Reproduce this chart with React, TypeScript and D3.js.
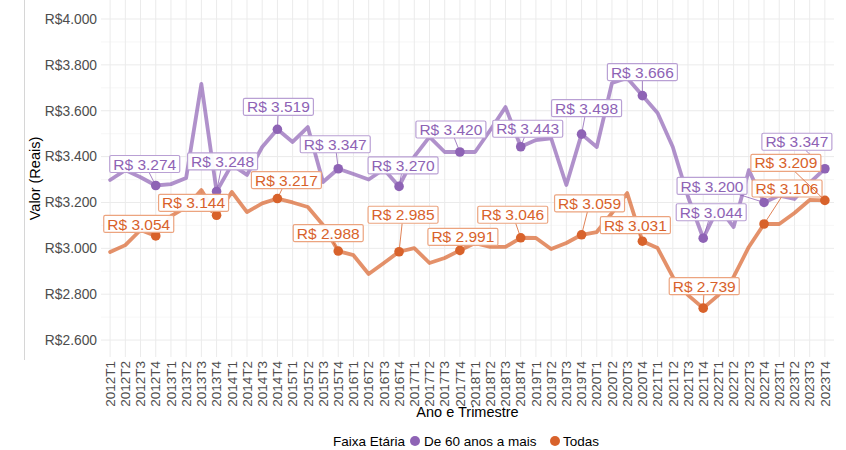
import React, { useEffect } from "react";
import * as d3 from "d3";

const years = [2012, 2013, 2014, 2015, 2016, 2017, 2018, 2019, 2020, 2021, 2022, 2023];
const quarterNames = ["T1", "T2", "T3", "T4"];
const quarters: string[] = years.flatMap((y) => quarterNames.map((q) => `${y}${q}`));

const seriesNames = ["De 60 anos a mais", "Todas"];

const valuesIdosos = [
  3298, 3341, 3310, 3274, 3280, 3307, 3717, 3248, 3365, 3320, 3442, 3519,
  3464, 3529, 3289, 3347, 3324, 3300, 3345, 3270, 3400, 3486, 3420, 3420,
  3420, 3516, 3616, 3443, 3472, 3480, 3276, 3498, 3442, 3721, 3743, 3666,
  3590, 3442, 3225, 3044, 3180, 3093, 3341, 3200, 3230, 3215, 3285, 3347,
];

const valuesTodas = [
  2984, 3014, 3080, 3054, 3140, 3180, 3254, 3144, 3246, 3158, 3196, 3217,
  3200, 3180, 3102, 2988, 2970, 2888, 2936, 2985, 3001, 2936, 2958, 2991,
  3023, 3006, 3006, 3046, 3045, 2997, 3023, 3059, 3071, 3154, 3241, 3031,
  3001, 2875, 2796, 2739, 2796, 2875, 3006, 3106, 3106, 3154, 3211, 3209,
];

const labeledIdosos = ["2012T4", "2013T4", "2014T4", "2015T4", "2016T4", "2017T4", "2018T4", "2019T4", "2020T4", "2021T4", "2022T4", "2023T4"];
const labeledTodas = ["2012T4", "2013T4", "2014T4", "2015T4", "2016T4", "2017T4", "2018T4", "2019T4", "2020T4", "2021T4", "2022T4", "2023T4"];

// label placement offsets (px) relative to the point (layout, repel-like)
const offsetsIdosos: [number, number][] = [
  [-11, -21.5], [6, -30], [1, -22.5], [-3, -24.5], [4, -21], [-9, -22.5],
  [7, -18], [5, -26], [0, -23.5], [8, -26], [-52, -16.5], [-28, -27],
];
const offsetsTodas: [number, number][] = [
  [-17, -12], [-23, -12.5], [9, -18.5], [-10, -18], [4, -37], [3, -13.5],
  [-8, -23], [8, -31.5], [-7, -16], [1, -22], [23, -35.5], [-39, -37.5],
];

const yTicks = [2600, 2800, 3000, 3200, 3400, 3600, 3800, 4000];
const yMinor = [2700, 2900, 3100, 3300, 3500, 3700, 3900];

const W = 846;
const H = 450;
const PL = 101, PR = 834, PT = 0, PB = 357;

const COL = {
  purple: "#8e63b5",
  purpleBox: "#b9a0d4",
  orange: "#d8622b",
  orangeBox: "#eca47f",
};

const locale = d3.formatLocale({ decimal: ",", thousands: ".", grouping: [3], currency: ["R$", ""] });
const fmtTick = (v: number) => "R$" + locale.format(",.0f")(v);
const fmtLabel = (v: number) => "R$ " + locale.format(",.0f")(v);

const FONT = "'Liberation Sans', Arial, Helvetica, sans-serif";

export default function App() {
  useEffect(() => {
    document.body.style.margin = "0";
  }, []);

  const x = d3.scalePoint<string>().domain(quarters).range([PL, PR]).padding(0.6);
  const y = d3.scaleLinear().domain([2526, 4083]).range([PB, PT]);

  const line = d3
    .line<number>()
    .x((_, i) => x(quarters[i]) as number)
    .y((v) => y(v));

  const series = [
    { name: seriesNames[0], values: valuesIdosos, labeled: labeledIdosos, offsets: offsetsIdosos, color: COL.purple, box: COL.purpleBox },
    { name: seriesNames[1], values: valuesTodas, labeled: labeledTodas, offsets: offsetsTodas, color: COL.orange, box: COL.orangeBox },
  ];

  const boxW = 70;
  const boxH = 17;

  const labels = series.flatMap((s) =>
    s.labeled.map((q, k) => {
      const i = quarters.indexOf(q);
      const px = x(q) as number;
      const py = y(s.values[i]);
      const [dx, dy] = s.offsets[k];
      const cx = px + dx;
      const cy = py + dy;
      const vx = px - cx;
      const vy = py - cy;
      const tx = vx !== 0 ? boxW / 2 / Math.abs(vx) : Infinity;
      const ty = vy !== 0 ? boxH / 2 / Math.abs(vy) : Infinity;
      const t = Math.min(tx, ty);
      const ex = cx + vx * t;
      const ey = cy + vy * t;
      const segLen = Math.hypot(px - ex, py - ey);
      return { key: s.name + q, px, py, cx, cy, ex, ey, segLen, t, text: fmtLabel(s.values[i]), color: s.color, box: s.box };
    })
  );

  return (
    <svg width={W} height={H} style={{ display: "block", fontFamily: FONT }}>
      <rect x={0} y={0} width={W} height={H} fill="#ffffff" />
      <line x1={24.5} x2={24.5} y1={0} y2={360} stroke="#d6d6d6" strokeWidth={1} />
      <g>
        {yMinor.map((v) => (
          <line key={"mn" + v} x1={PL} x2={PR} y1={y(v)} y2={y(v)} stroke="#f3f3f3" strokeWidth={0.7} />
        ))}
        {yTicks.map((v) => (
          <line key={"mj" + v} x1={PL} x2={PR} y1={y(v)} y2={y(v)} stroke="#ebebeb" strokeWidth={1} />
        ))}
        {quarters.map((q) => (
          <line key={"v" + q} x1={x(q)} x2={x(q)} y1={PT} y2={PB} stroke="#ebebeb" strokeWidth={1} />
        ))}
      </g>
      <g fontSize={13.8} fill="#4d4d4d" textAnchor="end">
        {yTicks.map((v) => (
          <text key={"yt" + v} x={97} y={y(v)} dy="0.35em">
            {fmtTick(v)}
          </text>
        ))}
      </g>
      <g fontSize={13.5} fill="#4d4d4d" textAnchor="end">
        {quarters.map((q) => (
          <text key={"xt" + q} transform={`translate(${x(q)},${361}) rotate(-90)`} dy="0.35em">
            {q}
          </text>
        ))}
      </g>
      <text x={(PL + PR) / 2} y={417} textAnchor="middle" fontSize={14.5} fill="#000">
        Ano e Trimestre
      </text>
      <text transform={`translate(40,${(PT + PB) / 2}) rotate(-90)`} textAnchor="middle" fontSize={14.5} fill="#000">
        Valor (Reais)
      </text>
      {series.map((s) => (
        <path key={"l" + s.name} d={line(s.values) || ""} fill="none" stroke={s.color} strokeOpacity={0.7} strokeWidth={3.8} strokeLinejoin="round" strokeLinecap="round" />
      ))}
      {series.map((s) =>
        s.labeled.map((q) => {
          const i = quarters.indexOf(q);
          return <circle key={"p" + s.name + q} cx={x(q)} cy={y(s.values[i])} r={4.8} fill={s.color} />;
        })
      )}
      {labels.map((l) => (
        <g key={l.key}>
          {l.t < 1 && l.segLen > 5 && (
            <line x1={l.ex} y1={l.ey} x2={l.px} y2={l.py} stroke={l.color} strokeWidth={0.8} />
          )}
          <rect x={l.cx - boxW / 2} y={l.cy - boxH / 2} width={boxW} height={boxH} rx={1.5} fill="#ffffff" fillOpacity={0.95} stroke={l.box} strokeWidth={1.2} />
          <text x={l.cx} y={l.cy} dy="0.36em" textAnchor="middle" fontSize={15.5} fill={l.color}>
            {l.text}
          </text>
        </g>
      ))}
      <g fontSize={13.5} fill="#000">
        <text x={333} y={446}>Faixa Etária</text>
        <circle cx={415} cy={441} r={5} fill={COL.purple} />
        <text x={424} y={446}>{seriesNames[0]}</text>
        <circle cx={555} cy={441} r={5} fill={COL.orange} />
        <text x={563} y={446}>{seriesNames[1]}</text>
      </g>
    </svg>
  );
}
